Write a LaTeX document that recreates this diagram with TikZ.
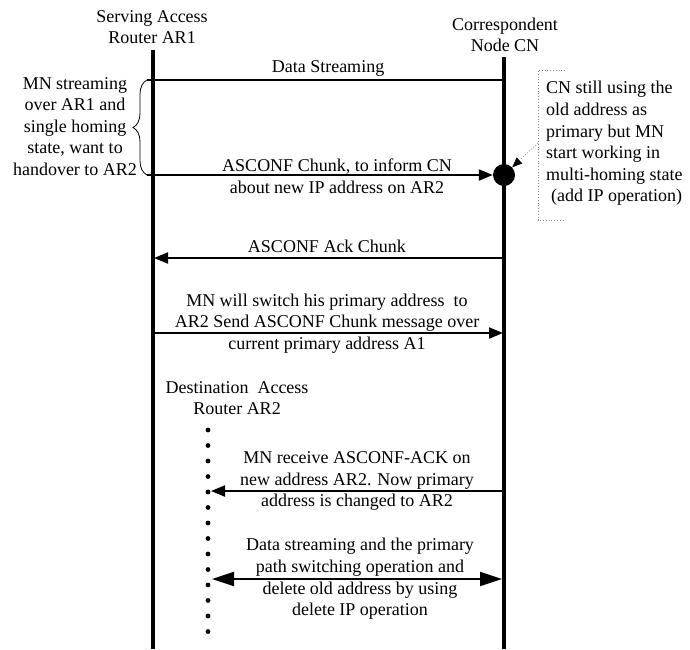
\documentclass[tikz,border=0pt]{standalone}
\usepackage{fontspec}
\setmainfont{Liberation Serif}
\usepackage{tikz}
\usetikzlibrary{arrows.meta, positioning, calc, decorations.pathreplacing}
\definecolor{notegray}{RGB}{140,140,140}

\begin{document}
\begin{tikzpicture}[x=1pt, y=-1pt,
    lifeline/.style={line width=3.6pt},
    msgline/.style={line width=2pt},
    msg/.style={line width=2pt, -{Triangle[length=14pt,width=11pt]}},
    bigmsg/.style={line width=2pt, {Triangle[length=22pt,width=14pt]}-{Triangle[length=22pt,width=14pt]}},
    txt/.style={font=\fontsize{18}{21.6}\selectfont, align=center, inner sep=0pt},
    notebox/.style={notegray, dotted, line width=0.8pt},
    notearrow/.style={notegray, dotted, line width=0.8pt, -{Triangle[length=10pt,width=8pt,black]}}]
    \useasboundingbox (0,0) rectangle (690,649);

    % lifelines
    \coordinate (AR1top) at (153,50);
    \coordinate (AR1bot) at (153,649);
    \coordinate (CNtop) at (504,57);
    \coordinate (CNbot) at (504,649);
    \draw[lifeline] (AR1top) -- (AR1bot);
    \draw[lifeline] (CNtop) -- (CNbot);

    \node[txt] (AR1) at (152,27) {Serving Access\\Router AR1};
    \node[txt] (CN) at (505,35) {Correspondent\\Node CN};
    \node[txt] (AR2) at (237,398) {Destination\ \ Access\\Router AR2};

    % AR2 dotted lifeline
    \foreach \k in {0,...,13}
        \fill (208,{430+15.5*\k}) circle (2.4pt);

    % data streaming
    \coordinate (S1) at (147,80);
    \coordinate (S2) at (504,80);
    \draw[msgline] (S1) -- (S2);
    \node[txt] (streamlbl) at (328,68) {Data Streaming};

    % brace on the left
    \coordinate (B1) at (147,175);
    \draw[decorate, decoration={brace, amplitude=14pt}, line width=0.8pt] (B1) -- (S1);
    \node[txt] (bracelbl) at (75,126.5) {MN streaming\\over AR1 and\\single homing\\state, want to\\handover to AR2};

    % ASCONF chunk
    \node[circle, fill=black, minimum size=22pt, inner sep=0pt] (dot) at (504,175) {};
    \draw[msg] (B1) -- (dot);
    \node[txt] (asconflbl) at (337,176) {ASCONF Chunk, to inform CN\\about new IP address on AR2};

    % note
    \coordinate (N1) at (565,70);
    \coordinate (N2) at (538,70);
    \coordinate (N3) at (538,220);
    \coordinate (N4) at (563,220);
    \coordinate (N5) at (538,143);
    \draw[notebox] (N1) -- (N2) -- (N3) -- (N4);
    \draw[notearrow] (N5) -- (dot);
    \node[txt, align=left, anchor=west] (note) at (546,143.5) {CN still using the\\old address as\\primary but MN\\start working in\\multi-homing state\\\hspace*{5pt}(add IP operation)};

    % ASCONF ack
    \coordinate (K1) at (504,258);
    \coordinate (K2) at (154,258);
    \draw[msg] (K1) -- (K2);
    \node[txt] (acklbl) at (327,246) {ASCONF Ack Chunk};

    % primary switch
    \coordinate (W1) at (153,333);
    \coordinate (W2) at (503,333);
    \draw[msg] (W1) -- (W2);
    \node[txt] (switchlbl) at (327,323.5) {MN will switch his primary address\ \ to\\AR2 Send ASCONF Chunk message over\\current primary address A1};

    % ack on new address
    \coordinate (R1) at (504,491);
    \coordinate (R2) at (211,491);
    \draw[msg] (R1) -- (R2);
    \node[txt] (recvlbl) at (357,481) {MN receive ASCONF-ACK on\\new address AR2. Now primary\\address is changed to AR2};

    % data over new path
    \coordinate (P1) at (212,579);
    \coordinate (P2) at (502,579);
    \draw[bigmsg] (P1) -- (P2);
    \node[txt] (pathlbl) at (360,579) {Data streaming and the primary\\path switching operation and\\delete old address by using\\delete IP operation};
\end{tikzpicture}
\end{document}
